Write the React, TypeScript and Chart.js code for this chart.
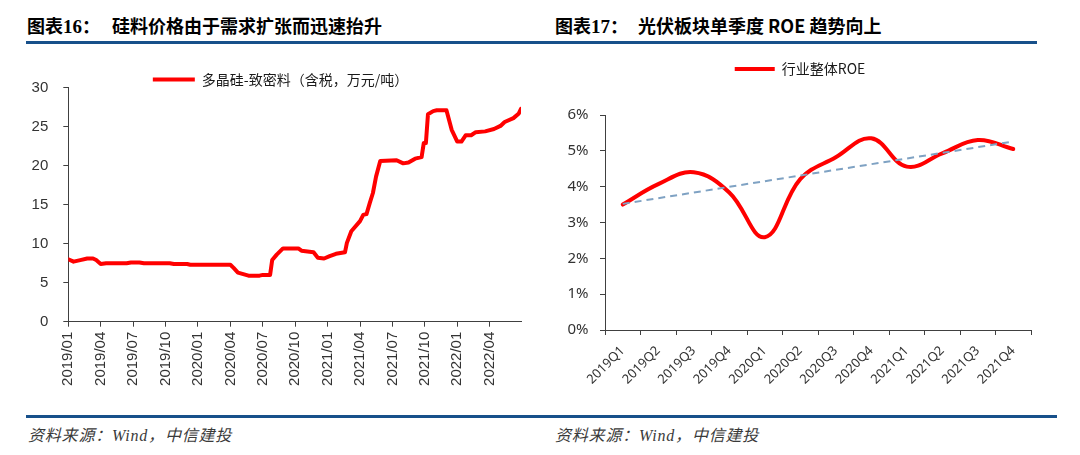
import React, { useEffect, useRef } from 'react';
import { Chart, registerables } from 'chart.js';

Chart.register(...registerables);

// ---------- Left chart data: polysilicon dense material price ----------
const priceLabel = '多晶硅-致密料（含税，万元/吨）';
const priceDates = [
  '2019-01-01', '2019-01-16', '2019-02-04', '2019-02-22', '2019-03-10', '2019-03-19', '2019-04-01', '2019-04-16',
  '2019-06-13', '2019-06-25', '2019-07-19', '2019-08-01', '2019-10-13', '2019-10-25', '2019-12-01', '2019-12-10',
  '2020-04-01', '2020-04-10', '2020-04-22', '2020-05-07', '2020-05-22', '2020-06-22', '2020-07-01', '2020-07-22',
  '2020-07-28', '2020-08-10', '2020-08-28', '2020-10-10', '2020-10-19', '2020-11-22', '2020-12-04', '2020-12-22',
  '2021-01-07', '2021-01-25', '2021-02-18', '2021-02-23', '2021-03-07', '2021-04-01', '2021-04-10', '2021-04-19',
  '2021-04-28', '2021-05-07', '2021-05-16', '2021-05-28', '2021-07-13', '2021-08-01', '2021-08-16', '2021-09-04',
  '2021-09-22', '2021-09-28', '2021-10-04', '2021-10-10', '2021-10-25', '2021-11-04', '2021-12-01', '2021-12-16',
  '2022-01-01', '2022-01-13', '2022-01-25', '2022-02-09', '2022-02-21', '2022-03-19', '2022-04-13', '2022-05-01',
  '2022-05-13', '2022-06-07', '2022-06-22', '2022-06-28',
];
const priceValues = [
  8.0, 7.7, 7.9, 8.1, 8.1, 7.9, 7.4, 7.5,
  7.5, 7.6, 7.6, 7.5, 7.5, 7.4, 7.4, 7.3,
  7.3, 6.9, 6.3, 6.1, 5.9, 5.9, 6.0, 6.0,
  7.9, 8.6, 9.4, 9.4, 9.1, 8.9, 8.2, 8.1,
  8.4, 8.7, 8.9, 10.1, 11.6, 12.9, 13.7, 13.8,
  15.2, 16.5, 18.6, 20.6, 20.7, 20.3, 20.4, 20.9,
  21.1, 22.9, 22.9, 26.6, 27.0, 27.1, 27.1, 24.6,
  23.1, 23.1, 23.9, 23.9, 24.3, 24.4, 24.7, 25.1,
  25.6, 26.1, 26.7, 27.3,
];
const priceTickLabels = [
  '2019/01', '2019/04', '2019/07', '2019/10', '2020/01', '2020/04', '2020/07',
  '2020/10', '2021/01', '2021/04', '2021/07', '2021/10', '2022/01', '2022/04',
];
const priceAxisStart = '2019-01-01';
const priceAxisEnd = '2022-06-28';
const priceYMin = 0;
const priceYMax = 30;
const priceYStep = 5;

// ---------- Right chart data: PV sector quarterly ROE ----------
const roeLabel = '行业整体ROE';
const roeQuarters = [
  '2019Q1', '2019Q2', '2019Q3', '2019Q4', '2020Q1', '2020Q2',
  '2020Q3', '2020Q4', '2021Q1', '2021Q2', '2021Q3', '2021Q4',
];
const roeValues = [3.5, 4.07, 4.4, 3.84, 2.59, 4.21, 4.82, 5.35, 4.56, 4.93, 5.3, 5.05];
const roeTrend = [3.52, null, null, null, null, null, null, null, null, null, null, 5.26];
const roeYMin = 0;
const roeYMax = 6;
const roeYStep = 1;

// ---------- helpers ----------
function monthIndex(s: string): number {
  const parts = s.split(/[-/]/).map(Number);
  const y = parts[0];
  const m = parts[1];
  const d = parts[2] || 1;
  const days = new Date(y, m, 0).getDate();
  return (y - 2019) * 12 + (m - 1) + (d - 1) / days;
}

// Fixes the legend box height and shifts the legend horizontally.
const legendTweak = (height: number, shiftX: number) => ({
  id: 'legendTweak',
  beforeInit(chart: any) {
    const orig = chart.legend.fit;
    chart.legend.fit = function () {
      orig.call(this);
      this.height = height;
    };
  },
  afterLayout(chart: any) {
    const lg = chart.legend;
    if (lg) {
      lg.left += shiftX;
      lg.right += shiftX;
    }
  },
});

const AXIS = '#404040';
const TEXT = '#333333';
const BLUE = '#17508a';

function PriceChart() {
  const ref = useRef<HTMLCanvasElement | null>(null);
  useEffect(() => {
    if (!ref.current) return;
    const tickPos = priceTickLabels.map((l) => monthIndex(l));
    const chart = new Chart(ref.current, {
      type: 'line',
      data: {
        datasets: [
          {
            label: priceLabel,
            data: priceDates.map((d, i) => ({ x: monthIndex(d), y: priceValues[i] })),
            borderColor: '#ff0000',
            backgroundColor: '#ff0000',
            borderWidth: 4,
            pointRadius: 0,
            tension: 0,
            borderCapStyle: 'round',
            borderJoinStyle: 'round',
          } as any,
        ],
      },
      options: {
        responsive: false,
        animation: false,
        layout: { padding: { top: 12.5, right: 19, left: 0, bottom: 0 } },
        plugins: {
          legend: {
            display: true,
            position: 'top',
            labels: {
              usePointStyle: true,
              pointStyle: 'line',
              pointStyleWidth: 42,
              padding: 10,
              color: '#1a1a1a',
              font: { family: '"Noto Sans CJK SC", "Noto Sans", sans-serif', size: 14 },
            },
          },
          tooltip: { enabled: false },
        },
        scales: {
          x: {
            type: 'linear',
            min: monthIndex(priceAxisStart),
            max: monthIndex(priceAxisEnd),
            afterBuildTicks: (s: any) => {
              s.ticks = tickPos.map((v) => ({ value: v }));
            },
            afterFit: (s: any) => {
              s.height = 78.3;
            },
            ticks: {
              autoSkip: false,
              minRotation: 90,
              maxRotation: 90,
              padding: 5,
              color: TEXT,
              font: { family: '"Liberation Sans", Arial, sans-serif', size: 15 },
              callback: (v: any) => {
                const i = tickPos.findIndex((p) => Math.abs(p - Number(v)) < 1e-6);
                return i >= 0 ? priceTickLabels[i] : '';
              },
            },
            grid: { drawOnChartArea: false, drawTicks: true, tickLength: 5, color: AXIS },
            border: { display: true, color: AXIS, width: 1 },
          },
          y: {
            min: priceYMin,
            max: priceYMax,
            afterFit: (s: any) => {
              s.width = 68.3;
            },
            ticks: {
              stepSize: priceYStep,
              padding: 15,
              color: TEXT,
              font: { family: '"Liberation Sans", Arial, sans-serif', size: 15 },
            },
            grid: { drawOnChartArea: false, drawTicks: true, tickLength: 5, color: AXIS },
            border: { display: true, color: AXIS, width: 1 },
          },
        },
      } as any,
      plugins: [legendTweak(25.2, 20)],
    });
    return () => chart.destroy();
  }, []);
  return (
    <canvas
      ref={ref}
      width={540}
      height={350}
      style={{ position: 'absolute', left: 0, top: 50, width: 540, height: 350 }}
    />
  );
}

function RoeChart() {
  const ref = useRef<HTMLCanvasElement | null>(null);
  useEffect(() => {
    if (!ref.current) return;
    const chart = new Chart(ref.current, {
      type: 'line',
      data: {
        labels: roeQuarters,
        datasets: [
          {
            label: roeLabel,
            data: roeValues,
            borderColor: '#ff0000',
            backgroundColor: '#ff0000',
            borderWidth: 4,
            pointRadius: 0,
            tension: 0.4,
            borderCapStyle: 'round',
            borderJoinStyle: 'round',
            order: 1,
          } as any,
          {
            label: 'trend',
            data: roeTrend,
            borderColor: '#7fa2c3',
            backgroundColor: '#7fa2c3',
            borderWidth: 2,
            borderDash: [7, 5],
            pointRadius: 0,
            tension: 0,
            spanGaps: true,
            order: 0,
          } as any,
        ],
      },
      options: {
        responsive: false,
        animation: false,
        layout: { padding: { top: 2, right: 14, left: 0, bottom: 0 } },
        plugins: {
          legend: {
            display: true,
            position: 'top',
            labels: {
              usePointStyle: true,
              pointStyle: 'line',
              pointStyleWidth: 40,
              padding: 10,
              color: '#1a1a1a',
              font: { family: '"Noto Sans CJK SC", "Noto Sans", sans-serif', size: 14 },
              filter: (item: any) => item.text === roeLabel,
            },
          },
          tooltip: { enabled: false },
        },
        scales: {
          x: {
            type: 'category',
            offset: true,
            afterFit: (s: any) => {
              s.height = 70;
            },
            ticks: {
              autoSkip: false,
              minRotation: 45,
              maxRotation: 45,
              padding: 8,
              color: TEXT,
              font: { family: '"Noto Sans", "Open Sans", sans-serif', size: 13 },
            },
            grid: { offset: true, drawOnChartArea: false, drawTicks: true, tickLength: 5, color: AXIS },
            border: { display: true, color: AXIS, width: 1 },
          },
          y: {
            min: roeYMin,
            max: roeYMax,
            afterFit: (s: any) => {
              s.width = 50;
            },
            ticks: {
              stepSize: roeYStep,
              padding: 11.5,
              color: TEXT,
              font: { family: '"Noto Sans", "Open Sans", sans-serif', size: 15 },
              callback: (v: any) => v + '%',
            },
            grid: { drawOnChartArea: false, drawTicks: true, tickLength: 5, color: AXIS },
            border: { display: true, color: AXIS, width: 1 },
          },
        },
      } as any,
      plugins: [legendTweak(63, 7)],
    });
    return () => chart.destroy();
  }, []);
  return (
    <canvas
      ref={ref}
      width={490}
      height={350}
      style={{ position: 'absolute', left: 555, top: 50, width: 490, height: 350 }}
    />
  );
}

const titleCJK = '"Noto Sans CJK SC", "Noto Sans", sans-serif';

function Title({ left, num, mainLeft, text }: { left: number; num: string; mainLeft: number; text: string }) {
  const base: React.CSSProperties = {
    position: 'absolute',
    top: 15,
    fontSize: 18,
    lineHeight: '20px',
    fontWeight: 700,
    color: '#000',
    whiteSpace: 'nowrap',
    fontFamily: titleCJK,
  };
  return (
    <>
      <div style={{ ...base, left }}>
        图表<span style={{ fontFamily: '"Liberation Serif", serif', fontSize: 19 }}>{num}</span>：
      </div>
      <div style={{ ...base, left: mainLeft }}>{text}</div>
    </>
  );
}

function Source({ left }: { left: number }) {
  return (
    <div
      style={{
        position: 'absolute',
        left,
        top: 426,
        fontSize: 16,
        lineHeight: '20px',
        fontStyle: 'italic',
        letterSpacing: '0.8px',
        color: '#3a3a3a',
        whiteSpace: 'nowrap',
        fontFamily: '"Liberation Serif", "Noto Sans CJK SC", serif',
      }}
    >
      资料来源：Wind，中信建投
    </div>
  );
}

export default function App() {
  return (
    <div
      style={{
        position: 'absolute',
        left: 0,
        top: 0,
        width: 1080,
        height: 455,
        background: '#ffffff',
        overflow: 'hidden',
      }}
    >
      <Title left={27} num="16" mainLeft={112} text="硅料价格由于需求扩张而迅速抬升" />
      <Title left={555} num="17" mainLeft={638} text="光伏板块单季度 ROE 趋势向上" />
      <div style={{ position: 'absolute', left: 26, top: 41, width: 1011, height: 3, background: BLUE }} />
      <PriceChart />
      <RoeChart />
      <div style={{ position: 'absolute', left: 26, top: 415, width: 1031, height: 3, background: BLUE }} />
      <Source left={28} />
      <Source left={555} />
    </div>
  );
}
